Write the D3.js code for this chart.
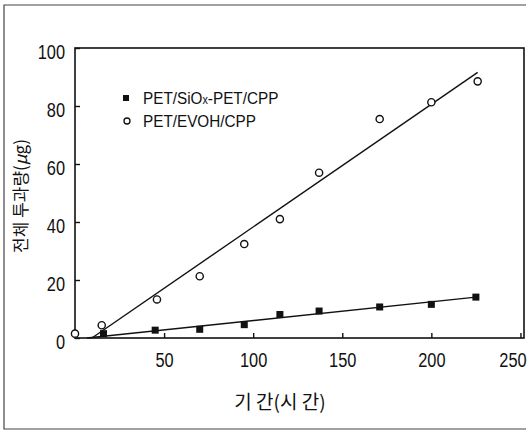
<!DOCTYPE html>
<html>
<head>
<meta charset="utf-8">
<script src="https://cdn.jsdelivr.net/npm/d3@7"></script>
<style>
  body { margin: 0; background: #fff; }
  text { font-family: "Liberation Sans", Arial, sans-serif; fill: #111; }
  .kr { font-family: "Noto Sans CJK KR", sans-serif; }
</style>
</head>
<body>
<div id="chart"></div>
<script>
// data
const evohTime  = [0, 15, 46, 70, 95, 115, 137, 171, 200, 226];
const evohValue = [1.5, 4.4, 13.3, 21.3, 32.4, 41.0, 57.0, 75.5, 81.3, 88.5];
const sioxTime  = [16, 45, 70, 95, 115, 137, 171, 200, 225];
const sioxValue = [1.5, 2.7, 3.0, 4.6, 8.1, 9.3, 10.7, 11.6, 14.1];
// fitted lines (start / end points, in data units)
const evohFit = [[9.5, 0], [226, 91.6]];
const sioxFit = [[6.7, 0], [225, 14.1]];
const xTicks = [50, 100, 150, 200, 250];
const yTicks = [0, 20, 40, 60, 80, 100];
const legendLabels = ["PET/SiOx-PET/CPP", "PET/EVOH/CPP"];

const W = 530, H = 431;
const margin = {top: 48, right: 6, bottom: 93, left: 75},
    width = W - margin.left - margin.right,
    height = H - margin.top - margin.bottom;
const narrow = 0.78; // the digits in the picture are condensed

const root = d3.select("#chart")
  .append("svg")
    .attr("width", W)
    .attr("height", H);

// outer frame of the figure
root.append("path")
  .attr("d", `M526,5 H4 V429 H526`)
  .attr("fill", "none")
  .attr("stroke", "#444")
  .attr("stroke-width", 1.2);

const svg = root.append("g")
  .attr("transform", `translate(${margin.left},${margin.top})`);

const x = d3.scaleLinear().domain([0, 252]).range([0, width]);
const y = d3.scaleLinear().domain([0, 100]).range([height, 0]);

// plot box
svg.append("rect")
  .attr("width", width).attr("height", height)
  .attr("fill", "none").attr("stroke", "#111").attr("stroke-width", 1.6);

// x axis, ticks pointing in
const xAxis = svg.append("g")
  .attr("transform", `translate(0,${height})`)
  .call(d3.axisBottom(x).tickValues(xTicks).tickSizeInner(-5).tickSizeOuter(0));
xAxis.select(".domain").remove();
xAxis.selectAll("line").attr("stroke", "#111").attr("stroke-width", 1.4);
xAxis.selectAll("text")
  .attr("y", 14)
  .attr("dx", d => d === 250 ? -8 / narrow : 0)
  .attr("transform", `scale(${narrow},1)`)
  .style("font-size", "21px");

// y axis, ticks pointing in
const yAxis = svg.append("g")
  .call(d3.axisLeft(y).tickValues(yTicks).tickSizeInner(-5).tickSizeOuter(0));
yAxis.select(".domain").remove();
yAxis.selectAll("line").attr("stroke", "#111").attr("stroke-width", 1.4);
yAxis.selectAll("text")
  .attr("x", -10 / narrow)
  .attr("dy", "0.5em")
  .attr("transform", `scale(${narrow},1)`)
  .style("font-size", "21px");

// fitted lines
const line = d3.line().x(d => x(d[0])).y(d => y(d[1]));
svg.append("path").datum(evohFit).attr("d", line)
  .attr("fill", "none").attr("stroke", "#111").attr("stroke-width", 1.4);
svg.append("path").datum(sioxFit).attr("d", line)
  .attr("fill", "none").attr("stroke", "#111").attr("stroke-width", 1.4);

// points
svg.selectAll(".sq")
  .data(sioxTime.map((t, i) => [t, sioxValue[i]]))
  .join("rect")
    .attr("x", d => x(d[0]) - 3.5)
    .attr("y", d => y(d[1]) - 3.5)
    .attr("width", 7).attr("height", 7)
    .attr("fill", "#111");

svg.selectAll(".ci")
  .data(evohTime.map((t, i) => [t, evohValue[i]]))
  .join("circle")
    .attr("cx", d => x(d[0]))
    .attr("cy", d => y(d[1]))
    .attr("r", 3.6)
    .attr("fill", "#fff").attr("stroke", "#111").attr("stroke-width", 1.4);

// Handmade legend
const lx = 0.9;
svg.append("rect").attr("x", 48).attr("y", 47).attr("width", 6).attr("height", 6).attr("fill", "#111");
svg.append("circle").attr("cx", 52).attr("cy", 73).attr("r", 3).attr("fill", "#fff").attr("stroke", "#111").attr("stroke-width", 1.3);
const l1 = svg.append("text").attr("x", 68 / lx).attr("y", 56)
  .attr("transform", `scale(${lx},1)`).style("font-size", "17px");
l1.append("tspan").text("PET/SiO");
l1.append("tspan").text("x").style("font-size", "12px");
l1.append("tspan").text("-PET/CPP");
svg.append("text").attr("x", 68 / lx).attr("y", 79)
  .attr("transform", `scale(${lx},1)`).style("font-size", "17px").text(legendLabels[1]);

// axis titles
root.append("text").attr("class", "kr")
  .attr("transform", "translate(27,196) rotate(-90)")
  .attr("text-anchor", "middle")
  .style("font-size", "17px")
  .html('전체 투과량(<tspan font-style="italic">μ</tspan>g)');
root.append("text").attr("class", "kr")
  .attr("x", 280).attr("y", 409)
  .attr("text-anchor", "middle")
  .style("font-size", "19px")
  .text("기 간(시 간)");
</script>
</body>
</html>
